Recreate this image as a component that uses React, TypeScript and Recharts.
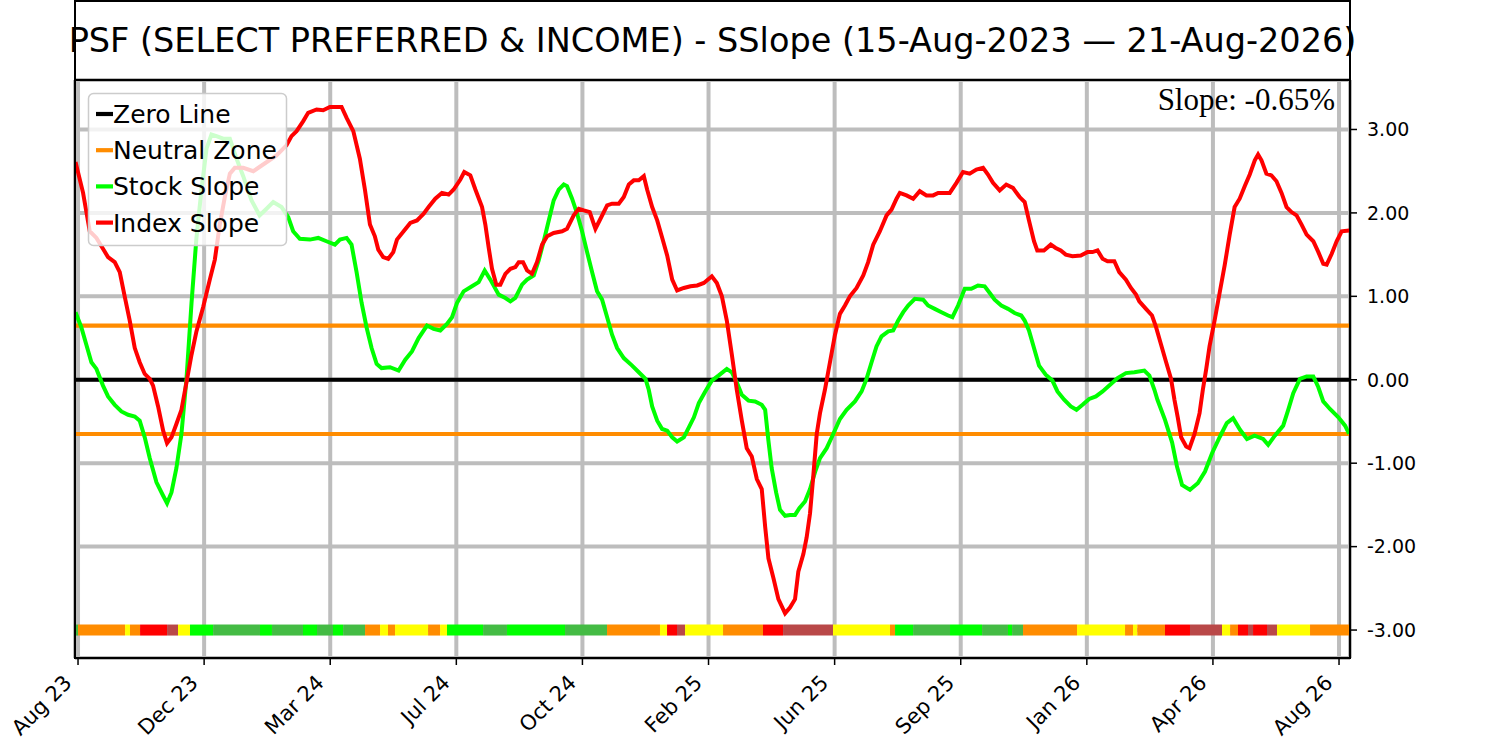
import React from 'react';
import {
  LineChart,
  Line,
  XAxis,
  YAxis,
  CartesianGrid,
  ReferenceLine,
  ReferenceArea,
} from 'recharts';

// x = position along the trading-day axis, 10 units between labelled ticks
const xTicks = [0, 10, 20, 30, 40, 50, 60, 70, 80, 90, 100];
const tickLabels = ['Aug 23', 'Dec 23', 'Mar 24', 'Jul 24', 'Oct 24', 'Feb 25', 'Jun 25', 'Sep 25', 'Jan 26', 'Apr 26', 'Aug 26'];
const yTicks = [-3, -2, -1, 0, 1, 2, 3];
const neutralZone = 0.65;
const slopePct = -0.65;

const stockSlope: [number, number][] = [
  [-0.2, 0.81], [0.26, 0.63], [0.66, 0.42], [1.06, 0.21], [1.46, 0.13], [1.98, -0.07], [2.38, -0.2], [2.91, -0.3],
  [3.44, -0.38], [3.97, -0.42], [4.5, -0.44], [4.89, -0.49], [5.29, -0.69], [5.69, -0.94], [6.22, -1.23], [6.75, -1.39],
  [7.06, -1.48], [7.41, -1.35], [7.8, -1.06], [8.2, -0.65], [8.6, 0.01], [9.0, 0.92], [9.39, 1.7], [9.79, 2.28],
  [10.19, 2.77], [10.58, 2.94], [10.98, 2.92], [11.51, 2.89], [12.04, 2.89], [12.57, 2.65], [13.1, 2.44], [13.76, 2.15],
  [14.4, 1.97], [14.95, 2.05], [15.48, 2.13], [16.14, 2.07], [16.67, 1.95], [17.06, 1.78], [17.59, 1.69], [18.39, 1.68],
  [19.05, 1.7], [19.7, 1.66], [20.37, 1.62], [20.77, 1.68], [21.3, 1.7], [21.69, 1.62], [22.09, 1.29], [22.49, 0.92],
  [22.88, 0.63], [23.28, 0.38], [23.68, 0.19], [24.07, 0.14], [24.74, 0.15], [25.42, 0.11], [25.95, 0.24], [26.48, 0.34],
  [27.01, 0.5], [27.67, 0.65], [28.2, 0.61], [28.73, 0.59], [29.26, 0.67], [29.66, 0.75], [30.05, 0.92], [30.58, 1.06],
  [31.24, 1.12], [31.77, 1.17], [32.25, 1.31], [32.7, 1.2], [33.36, 1.02], [33.89, 0.98], [34.29, 0.94], [34.68, 0.98],
  [35.21, 1.14], [35.61, 1.2], [36.14, 1.25], [36.53, 1.43], [36.93, 1.66], [37.33, 1.91], [37.72, 2.15], [38.12, 2.28],
  [38.52, 2.34], [38.78, 2.32], [39.18, 2.17], [39.58, 1.99], [39.97, 1.78], [40.37, 1.53], [40.77, 1.29], [41.16, 1.06],
  [41.56, 0.96], [41.96, 0.75], [42.35, 0.54], [42.75, 0.38], [43.28, 0.26], [43.94, 0.17], [44.47, 0.09], [45.0, 0.01],
  [45.26, -0.12], [45.53, -0.32], [45.93, -0.49], [46.32, -0.59], [46.72, -0.61], [47.12, -0.69], [47.51, -0.74], [48.04, -0.69],
  [48.44, -0.57], [48.84, -0.45], [49.23, -0.28], [49.74, -0.14], [50.26, -0.01], [50.79, 0.05], [51.45, 0.13], [51.85, 0.09],
  [52.24, -0.03], [52.64, -0.18], [53.17, -0.25], [53.69, -0.26], [54.22, -0.3], [54.49, -0.36], [54.75, -0.73], [55.01, -1.06],
  [55.36, -1.35], [55.67, -1.56], [56.07, -1.63], [56.46, -1.62], [56.86, -1.62], [57.2, -1.54], [57.65, -1.46], [58.05, -1.31],
  [58.44, -1.11], [58.84, -0.94], [59.37, -0.82], [59.89, -0.65], [60.42, -0.47], [60.95, -0.36], [61.61, -0.26], [62.14, -0.14],
  [62.53, 0.01], [62.93, 0.21], [63.32, 0.4], [63.72, 0.52], [64.25, 0.58], [64.64, 0.59], [65.04, 0.71], [65.44, 0.81],
  [65.83, 0.89], [66.36, 0.97], [67.02, 0.96], [67.41, 0.89], [67.94, 0.85], [68.47, 0.81], [69.0, 0.77], [69.34, 0.75],
  [69.79, 0.89], [70.32, 1.09], [70.84, 1.09], [71.37, 1.13], [71.9, 1.12], [72.3, 1.04], [72.69, 0.96], [73.22, 0.89],
  [73.75, 0.85], [74.27, 0.8], [74.8, 0.77], [75.07, 0.71], [75.41, 0.59], [75.81, 0.38], [76.21, 0.17], [76.74, 0.06],
  [77.27, -0.01], [77.67, -0.14], [78.2, -0.24], [78.73, -0.32], [79.18, -0.36], [79.66, -0.3], [80.19, -0.23], [80.72, -0.2],
  [81.25, -0.14], [81.78, -0.07], [82.44, 0.02], [83.1, 0.08], [83.77, 0.09], [84.56, 0.11], [84.96, 0.05], [85.36, -0.12],
  [85.6, -0.24], [86.2, -0.48], [86.76, -0.75], [87.15, -1.04], [87.55, -1.26], [88.18, -1.32], [88.8, -1.24], [89.37, -1.1],
  [89.93, -0.88], [90.56, -0.68], [91.1, -0.52], [91.6, -0.46], [92.15, -0.6], [92.7, -0.71], [93.3, -0.67], [93.98, -0.71],
  [94.38, -0.78], [94.91, -0.67], [95.57, -0.55], [95.97, -0.36], [96.37, -0.16], [96.9, 0.01], [97.43, 0.04], [97.96, 0.04],
  [98.36, -0.09], [98.75, -0.26], [99.28, -0.35], [99.95, -0.45], [100.48, -0.55], [100.8, -0.65],
];

const indexSlope: [number, number][] = [
  [-0.2, 2.61], [0.4, 2.24], [0.93, 1.78], [1.46, 1.7], [1.98, 1.57], [2.38, 1.47], [2.91, 1.41], [3.31, 1.29],
  [3.7, 1.0], [4.1, 0.71], [4.5, 0.38], [4.89, 0.21], [5.29, 0.07], [5.69, 0.01], [5.95, -0.07], [6.35, -0.32],
  [6.75, -0.61], [7.06, -0.76], [7.41, -0.69], [7.8, -0.53], [8.2, -0.36], [8.6, -0.03], [9.0, 0.3], [9.39, 0.58],
  [9.92, 0.87], [10.45, 1.2], [10.85, 1.44], [11.24, 1.86], [11.64, 2.19], [12.04, 2.47], [12.43, 2.54], [13.1, 2.54],
  [13.9, 2.5], [14.68, 2.58], [15.74, 2.69], [16.53, 2.81], [16.93, 2.92], [17.33, 2.98], [17.86, 3.1], [18.25, 3.2],
  [18.92, 3.24], [19.44, 3.23], [19.97, 3.27], [20.5, 3.27], [20.9, 3.27], [21.3, 3.14], [21.83, 2.98], [22.35, 2.65],
  [22.75, 2.28], [23.15, 1.86], [23.54, 1.72], [23.81, 1.56], [24.2, 1.47], [24.6, 1.45], [25.0, 1.53], [25.29, 1.68],
  [25.82, 1.78], [26.35, 1.88], [26.88, 1.91], [27.41, 1.99], [27.8, 2.07], [28.33, 2.17], [28.86, 2.24], [29.39, 2.22],
  [29.79, 2.28], [30.32, 2.4], [30.63, 2.49], [31.11, 2.45], [31.51, 2.28], [32.04, 2.07], [32.3, 1.86], [32.57, 1.58],
  [32.83, 1.33], [33.17, 1.14], [33.49, 1.14], [33.89, 1.27], [34.29, 1.33], [34.68, 1.35], [34.95, 1.41], [35.29, 1.41],
  [35.61, 1.31], [36.0, 1.27], [36.4, 1.41], [36.8, 1.62], [37.2, 1.72], [37.72, 1.76], [38.39, 1.78], [38.78, 1.81],
  [39.31, 1.97], [39.71, 2.05], [40.11, 2.03], [40.58, 2.01], [41.03, 1.81], [41.43, 1.93], [41.96, 2.09], [42.35, 2.11],
  [42.88, 2.11], [43.28, 2.19], [43.68, 2.34], [44.07, 2.39], [44.47, 2.39], [44.87, 2.44], [45.13, 2.28], [45.53, 2.07],
  [45.93, 1.91], [46.33, 1.7], [46.72, 1.49], [47.12, 1.2], [47.51, 1.07], [48.04, 1.1], [48.57, 1.12], [49.1, 1.13],
  [49.63, 1.16], [50.26, 1.24], [50.66, 1.16], [51.06, 1.0], [51.45, 0.71], [51.85, 0.3], [52.24, -0.12], [52.64, -0.49],
  [53.03, -0.82], [53.43, -0.92], [53.83, -1.19], [54.22, -1.31], [54.49, -1.76], [54.75, -2.14], [55.15, -2.38], [55.54, -2.63],
  [56.07, -2.8], [56.46, -2.73], [56.86, -2.63], [57.12, -2.3], [57.52, -2.09], [57.78, -1.89], [58.05, -1.6], [58.31, -1.15],
  [58.58, -0.65], [58.84, -0.4], [59.23, -0.12], [59.63, 0.21], [60.03, 0.54], [60.42, 0.79], [60.82, 0.89], [61.21, 1.0],
  [61.74, 1.1], [62.27, 1.25], [62.66, 1.41], [63.06, 1.62], [63.59, 1.78], [64.12, 1.97], [64.51, 2.04], [64.91, 2.17],
  [65.17, 2.24], [65.7, 2.21], [66.23, 2.17], [66.75, 2.26], [67.28, 2.21], [67.81, 2.21], [68.21, 2.24], [68.87, 2.24],
  [69.13, 2.24], [69.66, 2.36], [70.18, 2.49], [70.71, 2.47], [71.24, 2.52], [71.77, 2.54], [72.16, 2.46], [72.56, 2.36],
  [73.09, 2.27], [73.61, 2.34], [74.14, 2.3], [74.67, 2.19], [75.07, 2.13], [75.41, 1.91], [75.81, 1.66], [76.07, 1.55],
  [76.6, 1.55], [77.14, 1.62], [77.53, 1.58], [77.93, 1.55], [78.33, 1.5], [78.86, 1.48], [79.52, 1.49], [80.05, 1.53],
  [80.45, 1.53], [80.85, 1.55], [81.25, 1.45], [81.64, 1.42], [82.18, 1.42], [82.57, 1.29], [83.1, 1.2], [83.5, 1.1],
  [83.9, 1.02], [84.16, 0.94], [84.69, 0.85], [85.17, 0.77], [85.49, 0.63], [85.89, 0.42], [86.29, 0.21], [86.68, 0.01],
  [86.95, -0.24], [87.21, -0.45], [87.48, -0.69], [87.88, -0.8], [88.14, -0.82], [88.54, -0.65], [88.94, -0.4], [89.2, -0.12],
  [89.47, 0.13], [89.73, 0.4], [90.13, 0.71], [90.53, 1.04], [90.93, 1.37], [91.33, 1.74], [91.72, 2.07], [92.12, 2.17],
  [92.52, 2.32], [92.92, 2.46], [93.32, 2.63], [93.58, 2.7], [93.85, 2.63], [94.24, 2.47], [94.64, 2.45], [95.04, 2.38],
  [95.44, 2.24], [95.84, 2.07], [96.23, 2.01], [96.63, 1.97], [97.03, 1.86], [97.43, 1.74], [97.96, 1.66], [98.36, 1.53],
  [98.75, 1.39], [99.02, 1.38], [99.42, 1.51], [99.81, 1.66], [100.21, 1.78], [100.8, 1.79],
];

// zone strip along the -3 line: [from, to, zone]
const zoneStrip: [number, number, string][] = [
  [-0.24, 0, 'up'], [0, 3.73, 'neutral'], [3.73, 4.12, 'caution'], [4.12, 4.92, 'neutral'], [4.92, 7.06, 'strongDown'],
  [7.06, 7.93, 'down'], [7.93, 8.88, 'caution'], [8.88, 10.71, 'strongUp'], [10.71, 14.43, 'up'], [14.43, 15.38, 'strongUp'],
  [15.38, 17.84, 'up'], [17.84, 18.95, 'strongUp'], [18.95, 20.22, 'up'], [20.22, 21.02, 'strongUp'], [21.02, 22.76, 'up'],
  [22.76, 23.95, 'neutral'], [23.95, 24.58, 'caution'], [24.58, 25.14, 'neutral'], [25.14, 27.76, 'caution'], [27.76, 28.71, 'neutral'],
  [28.71, 29.26, 'caution'], [29.26, 32.12, 'strongUp'], [32.12, 34.02, 'up'], [34.02, 38.62, 'strongUp'], [38.62, 41.95, 'up'],
  [41.95, 46.15, 'neutral'], [46.15, 46.71, 'caution'], [46.71, 47.5, 'strongDown'], [47.5, 48.14, 'down'], [48.14, 51.15, 'caution'],
  [51.15, 54.32, 'neutral'], [54.32, 55.91, 'strongDown'], [55.91, 59.87, 'down'], [59.87, 64.39, 'caution'], [64.39, 64.79, 'neutral'],
  [64.79, 66.22, 'strongUp'], [66.22, 69.15, 'up'], [69.15, 71.69, 'strongUp'], [71.69, 73.75, 'up'], [73.75, 74.07, 'strongUp'],
  [74.07, 74.94, 'up'], [74.94, 79.22, 'neutral'], [79.22, 83.03, 'caution'], [83.03, 83.66, 'neutral'], [83.66, 84.0, 'caution'],
  [84.0, 86.2, 'neutral'], [86.2, 88.18, 'strongDown'], [88.18, 90.72, 'down'], [90.72, 91.36, 'caution'], [91.36, 91.99, 'neutral'],
  [91.99, 92.78, 'strongDown'], [92.78, 93.18, 'down'], [93.18, 94.29, 'strongDown'], [94.29, 95.08, 'down'], [95.08, 97.7, 'caution'],
  [97.7, 100.87, 'neutral'],
];

const zoneColors: Record<string, string> = {
  strongUp: '#00ff00',
  up: '#44bb44',
  neutral: '#ff8c00',
  caution: '#ffff00',
  down: '#b94848',
  strongDown: '#ff0000',
};

const stockData = stockSlope.map(([u, v]) => ({ u, v }));
const indexData = indexSlope.map(([u, v]) => ({ u, v }));

const FONT = 'DejaVu Sans, sans-serif';

const XTick = ({ x, y, payload }: any) => {
  const ex = x - 5;
  const ey = y + 15;
  const label = tickLabels[xTicks.indexOf(payload.value)] ?? '';
  return (
    <text
      x={ex}
      y={ey}
      transform={`rotate(-45 ${ex} ${ey})`}
      textAnchor="end"
      fontSize={21}
      fontFamily={FONT}
      fill="#000"
    >
      {label}
    </text>
  );
};

const legendItems = [
  { label: 'Zero Line', color: '#000000' },
  { label: 'Neutral Zone', color: '#ff8c00' },
  { label: 'Stock Slope', color: '#00ff00' },
  { label: 'Index Slope', color: '#ff0000' },
];

export default function App() {
  return (
    <div style={{ position: 'absolute', left: 0, top: 0, width: 1500, height: 741, background: '#fff' }}>
      <LineChart width={1500} height={741} margin={{ top: 80, left: 75, right: 70, bottom: 0 }}>
        <CartesianGrid stroke="#bdbdbd" strokeWidth={4} />
        <XAxis
          dataKey="u"
          type="number"
          domain={[-0.24, 100.87]}
          ticks={xTicks}
          allowDataOverflow
          height={83}
          axisLine={false}
          tickLine={{ stroke: '#000', strokeWidth: 1.5 }}
          tickSize={7}
          tickMargin={4}
          tick={<XTick />}
          interval={0}
        />
        <YAxis
          orientation="right"
          type="number"
          domain={[-3.335, 3.593]}
          ticks={yTicks}
          allowDataOverflow
          width={80}
          axisLine={false}
          tickLine={{ stroke: '#000', strokeWidth: 1.5 }}
          tickSize={7}
          tickMargin={10}
          tick={{ fill: '#000', fontSize: 19, fontFamily: FONT }}
          tickFormatter={(v: number) => v.toFixed(2)}
        />
        {zoneStrip.map(([from, to, zone], i) => (
          <ReferenceArea
            key={i}
            x1={from}
            x2={to}
            y1={-3.066}
            y2={-2.934}
            fill={zoneColors[zone]}
            fillOpacity={1}
            stroke="none"
            ifOverflow="hidden"
          />
        ))}
        <ReferenceLine y={neutralZone} stroke="#ff8c00" strokeWidth={4.2} />
        <ReferenceLine y={-neutralZone} stroke="#ff8c00" strokeWidth={4.2} />
        <ReferenceLine y={0} stroke="#000" strokeWidth={4.2} />
        <Line
          data={stockData}
          dataKey="v"
          type="linear"
          stroke="#00ff00"
          strokeWidth={4}
          dot={false}
          isAnimationActive={false}
        />
        <Line
          data={indexData}
          dataKey="v"
          type="linear"
          stroke="#ff0000"
          strokeWidth={4}
          dot={false}
          isAnimationActive={false}
        />
      </LineChart>
      <svg
        width={1500}
        height={741}
        style={{ position: 'absolute', left: 0, top: 0, pointerEvents: 'none' }}
      >
        <rect x={75} y={1} width={1275} height={79} fill="none" stroke="#000" strokeWidth={2} />
        <text x={712.5} y={52} textAnchor="middle" fontSize={33.5} fontFamily={FONT} fill="#000">
          PSF (SELECT PREFERRED &amp; INCOME) - SSlope (15-Aug-2023 — 21-Aug-2026)
        </text>
        <rect x={75} y={80} width={1275} height={578} fill="none" stroke="#000" strokeWidth={2} />
        <text x={1335} y={110} textAnchor="end" fontSize={31} fontFamily="Liberation Serif, serif" fill="#000">
          {`Slope: ${slopePct.toFixed(2)}%`}
        </text>
        <rect x={88.5} y={93.5} width={198} height={152} rx={5} fill="rgba(255,255,255,0.8)" stroke="#cccccc" strokeWidth={1.5} />
        {legendItems.map((item, i) => {
          const cy = 114 + i * 36.2;
          return (
            <g key={item.label}>
              <line x1={96} x2={113} y1={cy} y2={cy} stroke={item.color} strokeWidth={4.2} />
              <text x={113} y={cy + 9} fontSize={25} fontFamily={FONT} fill="#000">
                {item.label}
              </text>
            </g>
          );
        })}
      </svg>
    </div>
  );
}
